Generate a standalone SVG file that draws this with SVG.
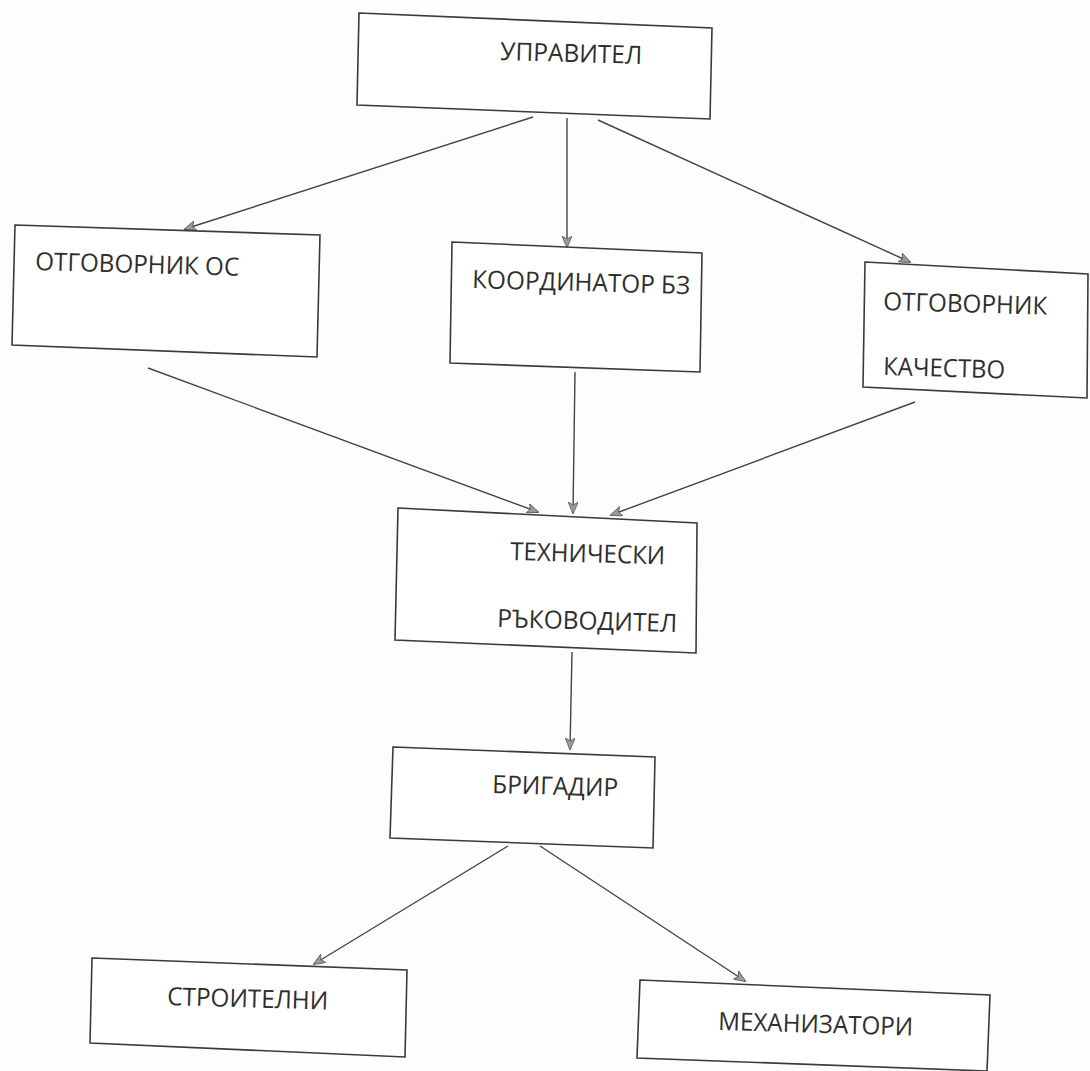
<svg xmlns="http://www.w3.org/2000/svg" width="1090" height="1071" viewBox="0 0 1090 1071">
<defs>
<style>
.box{fill:#fff;stroke:#3a3a3a;stroke-width:1.6}
.lbl{font-family:"Open Sans","Noto Sans","DejaVu Sans",sans-serif;font-size:25px;fill:#2e2e2e}
.conn{stroke:#444;stroke-width:1.4;fill:none}
</style>
<marker id="ah" viewBox="0 0 12 10" refX="11" refY="5" markerWidth="12" markerHeight="10" markerUnits="userSpaceOnUse" orient="auto">
<path d="M0,0 L12,5 L0,10 L3,5 Z" fill="#9a9a9a" stroke="#555" stroke-width="0.8"/>
</marker>
</defs>
<rect width="1090" height="1071" fill="#fdfdfd"/>
<g id="connectors">
<line class="conn" x1="533" y1="117" x2="185" y2="229" marker-end="url(#ah)"/>
<line class="conn" x1="567" y1="118" x2="567" y2="247" marker-end="url(#ah)"/>
<line class="conn" x1="598" y1="120" x2="910" y2="262" marker-end="url(#ah)"/>
<line class="conn" x1="148" y1="368" x2="538" y2="512" marker-end="url(#ah)"/>
<line class="conn" x1="575" y1="372" x2="573" y2="513" marker-end="url(#ah)"/>
<line class="conn" x1="915" y1="402" x2="611" y2="515" marker-end="url(#ah)"/>
<line class="conn" x1="572" y1="652" x2="570" y2="749" marker-end="url(#ah)"/>
<line class="conn" x1="508" y1="846" x2="314" y2="964" marker-end="url(#ah)"/>
<line class="conn" x1="540" y1="846" x2="745" y2="981" marker-end="url(#ah)"/>
</g>
<g id="upravitel">
<polygon class="box" points="359,13 712,28 710,119 357,105"/>
<text class="lbl" x="500" y="60" textLength="142" lengthAdjust="spacingAndGlyphs" transform="rotate(1.6 500 60)">УПРАВИТЕЛ</text>
</g>
<g id="otgovornik-os">
<polygon class="box" points="15,225 320,235 317,357 12,345"/>
<text class="lbl" x="35" y="270" textLength="204" lengthAdjust="spacingAndGlyphs" transform="rotate(1.6 35 270)">ОТГОВОРНИК ОС</text>
</g>
<g id="koordinator-bz">
<polygon class="box" points="452,242 702,253 700,372 450,363"/>
<text class="lbl" x="472" y="288" textLength="218" lengthAdjust="spacingAndGlyphs" transform="rotate(1.6 472 288)">КООРДИНАТОР БЗ</text>
</g>
<g id="otgovornik-kachestvo">
<polygon class="box" points="865,262 1088,274 1087,398 863,387"/>
<text class="lbl" x="883" y="310" textLength="164" lengthAdjust="spacingAndGlyphs" transform="rotate(1.6 883 310)">ОТГОВОРНИК</text>
<text class="lbl" x="883" y="375" textLength="122" lengthAdjust="spacingAndGlyphs" transform="rotate(1.6 883 375)">КАЧЕСТВО</text>
</g>
<g id="tehnicheski-rakovoditel">
<polygon class="box" points="398,508 697,523 696,653 395,640"/>
<text class="lbl" x="510" y="560" textLength="155" lengthAdjust="spacingAndGlyphs" transform="rotate(1.6 510 560)">ТЕХНИЧЕСКИ</text>
<text class="lbl" x="497" y="627" textLength="180" lengthAdjust="spacingAndGlyphs" transform="rotate(1.6 497 627)">РЪКОВОДИТЕЛ</text>
</g>
<g id="brigadir">
<polygon class="box" points="393,747 655,757 653,848 390,838"/>
<text class="lbl" x="492" y="793" textLength="126" lengthAdjust="spacingAndGlyphs" transform="rotate(1.6 492 793)">БРИГАДИР</text>
</g>
<g id="stroitelni">
<polygon class="box" points="92,958 407,970 405,1057 90,1043"/>
<text class="lbl" x="167" y="1005" textLength="161" lengthAdjust="spacingAndGlyphs" transform="rotate(1.6 167 1005)">СТРОИТЕЛНИ</text>
</g>
<g id="mehanizatori">
<polygon class="box" points="640,980 990,995 987,1071 637,1058"/>
<text class="lbl" x="718" y="1030" textLength="195" lengthAdjust="spacingAndGlyphs" transform="rotate(1.6 718 1030)">МЕХАНИЗАТОРИ</text>
</g>
</svg>
